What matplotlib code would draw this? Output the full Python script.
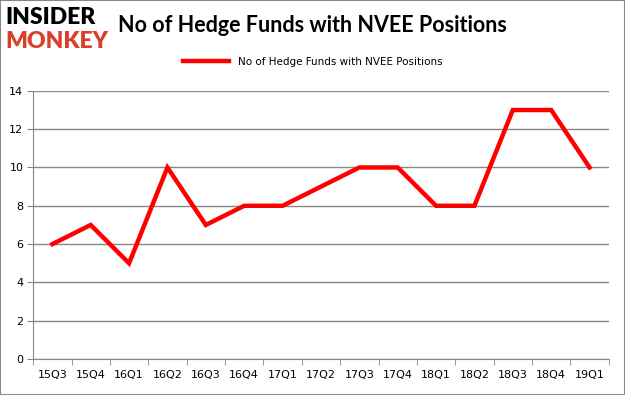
import matplotlib.pyplot as plt
import numpy as np

quarters = ["15Q3", "15Q4", "16Q1", "16Q2", "16Q3", "16Q4", "17Q1", "17Q2",
            "17Q3", "17Q4", "18Q1", "18Q2", "18Q3", "18Q4", "19Q1"]
funds = [6, 7, 5, 10, 7, 8, 8, 9, 10, 10, 8, 8, 13, 13, 10]
yticks = [0, 2, 4, 6, 8, 10, 12, 14]

fig = plt.figure(figsize=(6.25, 3.95), dpi=100)
ax = fig.add_axes([0.053, 0.091, 0.921, 0.679])

x = np.arange(len(quarters))
line, = ax.plot(x, funds, color="#ff0000", linewidth=3.2,
                solid_joinstyle="miter", label="No of Hedge Funds with NVEE Positions")

ax.set_xlim(-0.5, len(quarters) - 0.5)
ax.set_ylim(0, 14)
ax.set_yticks(yticks)
ax.set_xticks(x)
ax.set_xticklabels(quarters)
ax.set_xticks(np.arange(-0.5, len(quarters)), minor=True)
ax.tick_params(axis="x", which="major", length=0, labelsize=8, pad=8)
ax.tick_params(axis="x", which="minor", length=4, color="#888888")
ax.tick_params(axis="y", length=4, color="#888888", labelsize=8, pad=3)
ax.grid(axis="y", color="#888888", linewidth=1)
ax.set_axisbelow(True)
for side in ("top", "right"):
    ax.spines[side].set_visible(False)
for side in ("left", "bottom"):
    ax.spines[side].set_color("#888888")

fig.legend(handles=[line], loc="center", bbox_to_anchor=(0.5, 0.843),
           frameon=False, fontsize=7.5, handlelength=4.5)

fig.text(0.188, 0.935, "No of Hedge Funds with NVEE Positions", fontsize=15.5,
         fontweight="bold", va="center", ha="left", family="Lato")
fig.text(0.008, 0.955, "INSIDER", fontsize=16.5, fontweight="heavy",
         color="black", va="center", ha="left", family="Lato")
fig.text(0.008, 0.895, "MONKEY", fontsize=16.5, fontweight="heavy",
         color="#d9402b", va="center", ha="left", family="Lato")

fig.patches.append(plt.Rectangle((0, 0), 1, 1, transform=fig.transFigure,
                                 fill=False, edgecolor="#888888", linewidth=1.5))

fig.savefig("out.png", dpi=100)
